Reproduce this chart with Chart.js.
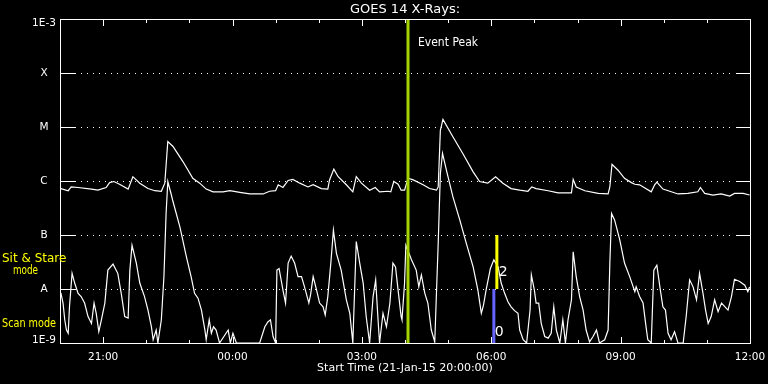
<!DOCTYPE html>
<html>
<head>
<meta charset="utf-8">
<title>GOES 14 X-Rays</title>
<script src="https://cdn.jsdelivr.net/npm/chart.js@4.4.1/dist/chart.umd.min.js"></script>
<style>
    html, body { margin: 0; padding: 0; background: #000; }
    #grafico   { display: block; }
</style>
</head>
<body>
<canvas id="grafico" width="768" height="384"></canvas>
<script>
// ===== DATA =====
// [hours since 21-Jan-15 20:00, log10 flux (W/m²)]
const LONG_CHANNEL = [
    [0.02,-6.14],[0.19,-6.18],[0.26,-6.11],[0.42,-6.12],[0.73,-6.15],[0.88,-6.17],[1.07,-6.12],[1.15,-6.03],
    [1.25,-6.01],[1.38,-6.06],[1.58,-6.15],[1.69,-5.92],[1.85,-6.04],[2.04,-6.14],[2.20,-6.18],[2.35,-6.19],
    [2.43,-6.04],[2.50,-5.27],[2.62,-5.36],[2.85,-5.64],[3.08,-5.95],[3.24,-6.04],[3.39,-6.15],[3.55,-6.20],
    [3.78,-6.20],[3.94,-6.18],[4.17,-6.21],[4.40,-6.24],[4.71,-6.24],[4.86,-6.19],[5.00,-6.18],[5.06,-6.07],
    [5.17,-6.12],[5.29,-5.99],[5.40,-5.97],[5.56,-6.04],[5.75,-6.11],[5.87,-6.07],[6.06,-6.14],[6.21,-6.15],
    [6.25,-5.98],[6.35,-5.78],[6.45,-5.92],[6.64,-6.07],[6.79,-6.20],[6.87,-5.92],[6.99,-6.04],[7.18,-6.17],
    [7.31,-6.12],[7.41,-6.20],[7.61,-6.19],[7.67,-6.20],[7.74,-6.01],[7.84,-6.06],[7.91,-6.17],[7.99,-6.17],
    [8.07,-5.95],[8.19,-5.98],[8.42,-6.07],[8.57,-6.14],[8.73,-6.17],[8.77,-6.11],[8.82,-5.06],[8.88,-4.86],
    [9.11,-5.18],[9.34,-5.49],[9.58,-5.83],[9.73,-6.01],[9.92,-6.04],[10.10,-5.92],[10.27,-6.04],[10.46,-6.14],
    [10.66,-6.17],[10.85,-6.19],[10.94,-6.11],[11.04,-6.14],[11.32,-6.18],[11.55,-6.22],[11.86,-6.22],[11.90,-5.97],
    [11.97,-6.11],[12.17,-6.18],[12.48,-6.23],[12.71,-6.24],[12.75,-6.11],[12.80,-5.69],[12.94,-5.80],[13.09,-5.95],
    [13.25,-6.03],[13.33,-6.06],[13.44,-6.07],[13.71,-6.20],[13.79,-6.07],[13.84,-6.02],[13.98,-6.15],[14.14,-6.19],
    [14.33,-6.24],[14.56,-6.23],[14.79,-6.20],[14.85,-6.12],[14.95,-6.23],[15.14,-6.26],[15.33,-6.24],[15.53,-6.28],
    [15.64,-6.23],[15.84,-6.23],[15.99,-6.26]
];

const SHORT_CHANNEL = [
    [0.02,-8.07],[0.07,-8.26],[0.11,-8.57],[0.15,-8.76],[0.19,-8.82],[0.22,-8.33],[0.28,-7.71],[0.34,-7.89],
    [0.42,-8.08],[0.49,-8.14],[0.57,-8.26],[0.65,-8.51],[0.73,-8.64],[0.79,-8.26],[0.84,-8.45],[0.90,-8.79],
    [0.96,-8.57],[1.04,-8.26],[1.11,-7.65],[1.23,-7.54],[1.34,-7.71],[1.42,-8.08],[1.50,-8.51],[1.58,-8.54],
    [1.62,-7.65],[1.67,-7.19],[1.77,-7.52],[1.85,-7.89],[1.96,-8.14],[2.04,-8.39],[2.12,-8.70],[2.16,-8.94],
    [2.23,-8.76],[2.27,-9.00],[2.35,-8.57],[2.41,-7.77],[2.46,-6.60],[2.50,-6.01],[2.58,-6.25],[2.62,-6.38],
    [2.78,-6.85],[2.93,-7.40],[3.04,-7.77],[3.12,-8.08],[3.20,-8.17],[3.28,-8.39],[3.36,-8.76],[3.39,-8.94],
    [3.46,-8.57],[3.51,-8.82],[3.56,-8.70],[3.62,-8.76],[3.70,-9.00],[3.90,-8.76],[3.95,-9.00],[4.01,-8.82],
    [4.09,-9.00],[4.63,-9.00],[4.75,-8.70],[4.82,-8.61],[4.88,-8.57],[4.94,-8.88],[5.00,-9.00],[5.03,-7.65],
    [5.08,-7.62],[5.17,-8.02],[5.23,-8.26],[5.29,-7.52],[5.36,-7.39],[5.44,-7.52],[5.52,-7.77],[5.60,-7.77],
    [5.67,-7.96],[5.77,-8.26],[5.81,-8.11],[5.87,-7.77],[5.94,-7.99],[6.02,-8.26],[6.10,-8.33],[6.15,-8.48],
    [6.21,-8.14],[6.28,-7.52],[6.34,-6.91],[6.41,-7.34],[6.52,-7.65],[6.64,-8.20],[6.72,-8.45],[6.79,-9.00],
    [6.87,-7.12],[6.95,-7.52],[7.03,-7.89],[7.10,-8.51],[7.18,-9.00],[7.26,-8.14],[7.32,-7.83],[7.37,-8.51],
    [7.41,-9.00],[7.49,-8.45],[7.57,-8.70],[7.65,-8.26],[7.72,-7.52],[7.78,-7.59],[7.84,-8.02],[7.91,-8.51],
    [7.93,-8.57],[7.99,-7.89],[8.02,-7.19],[8.15,-7.46],[8.26,-7.65],[8.32,-7.96],[8.38,-7.74],[8.46,-8.08],
    [8.53,-8.26],[8.61,-8.76],[8.69,-8.98],[8.77,-7.15],[8.82,-5.86],[8.87,-5.49],[8.96,-5.80],[9.11,-6.29],
    [9.27,-6.72],[9.42,-7.15],[9.58,-7.59],[9.69,-8.02],[9.77,-8.45],[9.82,-8.30],[9.88,-8.02],[9.98,-7.62],
    [10.06,-7.46],[10.16,-7.59],[10.23,-7.89],[10.31,-8.08],[10.39,-8.24],[10.46,-8.33],[10.54,-8.40],[10.62,-8.45],
    [10.66,-8.76],[10.74,-8.94],[10.82,-9.00],[10.90,-8.39],[10.93,-7.74],[11.00,-8.02],[11.04,-8.26],[11.10,-8.26],
    [11.16,-8.64],[11.24,-8.88],[11.32,-8.91],[11.39,-8.82],[11.45,-8.33],[11.51,-8.76],[11.59,-9.00],[11.66,-8.57],
    [11.72,-9.00],[11.78,-8.57],[11.86,-8.20],[11.90,-7.31],[11.97,-7.77],[12.05,-8.14],[12.13,-8.39],[12.20,-8.76],
    [12.28,-8.98],[12.36,-8.88],[12.44,-8.76],[12.51,-9.00],[12.63,-8.94],[12.71,-8.76],[12.75,-7.52],[12.79,-6.60],
    [12.86,-6.72],[12.98,-7.09],[13.09,-7.52],[13.21,-7.77],[13.33,-8.05],[13.36,-7.96],[13.44,-8.14],[13.52,-8.26],
    [13.58,-8.64],[13.63,-8.94],[13.71,-9.00],[13.77,-7.65],[13.84,-7.56],[13.91,-7.96],[13.98,-8.33],[14.04,-8.39],
    [14.10,-8.82],[14.17,-8.94],[14.25,-8.79],[14.33,-9.00],[14.45,-9.00],[14.52,-8.51],[14.60,-7.83],[14.68,-7.96],
    [14.76,-8.20],[14.83,-7.71],[14.91,-8.08],[14.97,-8.39],[15.03,-8.64],[15.10,-8.51],[15.18,-8.20],[15.26,-8.42],
    [15.34,-8.26],[15.42,-8.33],[15.49,-8.39],[15.57,-8.14],[15.64,-7.82],[15.76,-7.86],[15.88,-7.93],[15.95,-8.05],
    [15.99,-7.96]
];

const EVENT_PEAK_HOUR = 8.07;   // 04:04
const SIT_STARE_HOUR  = 10.13;  // yellow marker, B..A
const SCAN_HOUR       = 10.06;  // blue marker, A..1E-9

const Y_TICKS  = [1e-9, 1e-8, 1e-7, 1e-6, 1e-5, 1e-4, 1e-3];
const Y_LABELS = ['1E-9', 'A', 'B', 'C', 'M', 'X', '1E-3'];
const X_TICKS  = [1, 4, 7, 10, 13, 16];
const X_LABELS = ['21:00', '00:00', '03:00', '06:00', '09:00', '12:00'];
const X_HOURS  = 16;

const TITULO   = 'GOES 14 X-Rays:';
const X_TITULO = 'Start Time (21-Jan-15 20:00:00)';

// ===== HELPERS =====
const FONTE = 'DejaVu Sans';
const toPoints = serie => serie.map(([h, lg]) => ({ x: h, y: Math.pow(10, lg) }));
const vertical = (h, y0, y1) => [{ x: h, y: y0 }, { x: h, y: y1 }];

// ===== DECORAÇÃO (frame, ticks, dotted grid, labels) =====
const goesDecor = {
    id: 'goesDecor',
    beforeDraw(chart) {
        const { ctx, width, height } = chart;
        ctx.save();
        ctx.fillStyle = '#000';
        ctx.fillRect(0, 0, width, height);
        ctx.restore();
    },
    beforeDatasetsDraw(chart) {
        const { ctx, chartArea: a, scales: { y } } = chart;
        ctx.save();
        ctx.strokeStyle = '#fff';
        ctx.lineWidth = 1;
        ctx.setLineDash([1, 5]);
        Y_TICKS.slice(1, -1).forEach(v => {
            const py = Math.round(y.getPixelForValue(v)) + 0.5;
            ctx.beginPath(); ctx.moveTo(a.left + 15, py); ctx.lineTo(a.right - 15, py); ctx.stroke();
        });
        ctx.restore();
    },
    afterDraw(chart) {
        const { ctx, chartArea: a, scales: { x, y } } = chart;
        ctx.save();
        ctx.strokeStyle = '#fff';
        ctx.lineWidth = 1;
        ctx.strokeRect(a.left + 0.5, a.top + 0.5, a.right - a.left, a.bottom - a.top);

        // y ticks, both sides
        Y_TICKS.forEach(v => {
            const py = Math.round(y.getPixelForValue(v)) + 0.5;
            ctx.beginPath();
            ctx.moveTo(a.left, py);       ctx.lineTo(a.left + 15, py);
            ctx.moveTo(a.right - 14, py); ctx.lineTo(a.right + 1, py);
            ctx.stroke();
        });

        // x ticks every hour, top and bottom
        for (let h = 0; h <= X_HOURS; h++) {
            const px = Math.round(x.getPixelForValue(h)) + 0.5;
            const len = X_TICKS.includes(h) ? 7 : 4;
            ctx.beginPath();
            ctx.moveTo(px, a.top);        ctx.lineTo(px, a.top + len);
            ctx.moveTo(px, a.bottom + 1); ctx.lineTo(px, a.bottom + 1 - len);
            ctx.stroke();
        }

        // y labels
        ctx.fillStyle = '#fff';
        ctx.font = `10.5px "${FONTE}"`;
        ctx.textAlign = 'center';
        ctx.textBaseline = 'middle';
        Y_TICKS.forEach((v, i) => {
            let py = y.getPixelForValue(v);
            py = Math.min(Math.max(py, a.top + 4), a.bottom - 3);
            ctx.fillText(Y_LABELS[i], 44, py);
        });

        // title
        ctx.font = `13px "${FONTE}"`;
        ctx.fillText(TITULO, (a.left + a.right) / 2, 10);

        // event peak
        ctx.textAlign = 'left';
        ctx.font = `11.5px "${FONTE}"`;
        ctx.fillText('Event Peak', x.getPixelForValue(EVENT_PEAK_HOUR) + 10, 43, 60);

        // marker numbers
        ctx.font = `14px "${FONTE}"`;
        ctx.fillText('2', x.getPixelForValue(SIT_STARE_HOUR) + 2, y.getPixelForValue(10 ** -7.7));
        ctx.fillText('0', x.getPixelForValue(SCAN_HOUR) + 1, y.getPixelForValue(10 ** -8.8));

        // mode legend
        ctx.fillStyle = '#ffff00';
        ctx.font = `12px "${FONTE}"`;
        ctx.fillText('Sit & Stare', 2, 259, 65);
        ctx.fillText('mode', 13, 271, 25);
        ctx.fillText('Scan mode', 2, 324, 54);
        ctx.restore();
    }
};

// ===== GRÁFICO =====
const linha = (data, cor, largura, ordem) => ({
    data, borderColor: cor, borderWidth: largura, pointRadius: 0, tension: 0, order: ordem
});

new Chart(document.getElementById('grafico'), {
    type: 'line',
    data: {
        datasets: [
            linha(toPoints(LONG_CHANNEL),  '#ffffff', 1.2, 2),
            linha(toPoints(SHORT_CHANNEL), '#ffffff', 1.2, 2),
            linha(vertical(EVENT_PEAK_HOUR, 1e-3, 1e-9), '#a4d400', 3, 1),
            linha(vertical(SIT_STARE_HOUR, 1e-7, 1e-8),  '#ffff00', 3, 0),
            linha(vertical(SCAN_HOUR, 1e-8, 1e-9),       '#6464ff', 3, 0),
        ]
    },
    options: {
        responsive: false,
        animation: false,
        devicePixelRatio: 1,
        layout: { padding: { top: 19, right: 18, left: 0, bottom: 0 } },
        plugins: { legend: { display: false }, tooltip: { enabled: false } },
        scales: {
            x: {
                type: 'linear', min: 0, max: X_HOURS,
                afterBuildTicks: s => { s.ticks = X_TICKS.map(v => ({ value: v })); },
                afterFit: s => { s.height = 41; },
                grid: { display: false },
                border: { display: false },
                ticks: {
                    color: '#fff', padding: 0, maxRotation: 0, autoSkip: false,
                    font: { family: FONTE, size: 10.5 },
                    callback: v => X_LABELS[X_TICKS.indexOf(v)]
                },
                title: {
                    display: true, text: X_TITULO, color: '#fff',
                    font: { family: FONTE, size: 11 },
                    padding: { top: 0, bottom: 9 }
                }
            },
            y: {
                type: 'logarithmic', min: 1e-9, max: 1e-3,
                afterFit: s => { s.width = 60; },
                grid: { display: false },
                border: { display: false },
                ticks: { display: false }
            }
        }
    },
    plugins: [goesDecor]
});
</script>
</body>
</html>
